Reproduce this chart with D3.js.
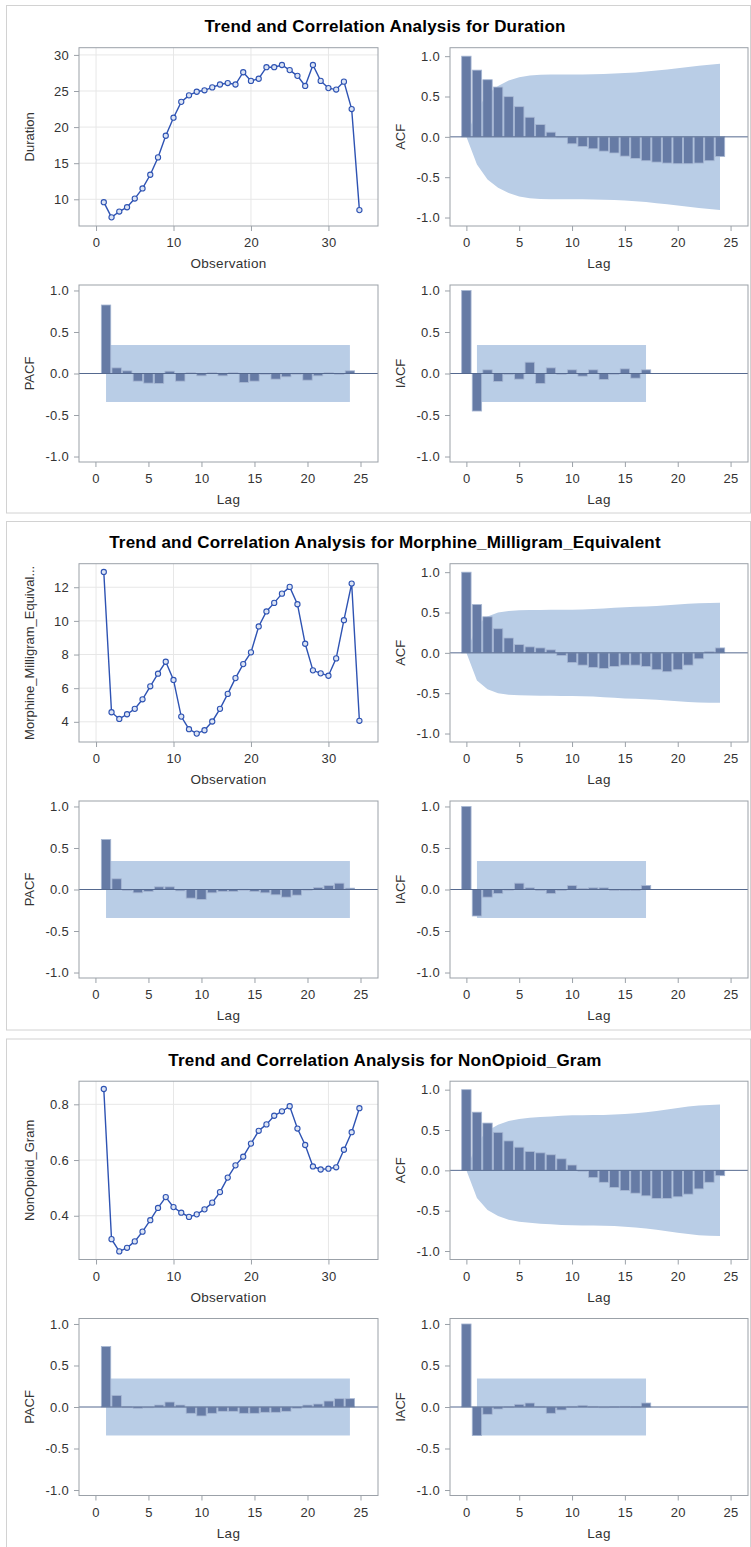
<!DOCTYPE html>
<html>
<head>
<meta charset="utf-8">
<script src="https://cdn.jsdelivr.net/npm/d3@7"></script>
<style>
body { margin: 0; background: #fff; }
svg text { font-family: "Liberation Sans", Arial, sans-serif; }
</style>
</head>
<body>
<svg id="chart" width="751" height="1547"></svg>
<script>
const trend_x_ticks = [0, 10, 20, 30];
const lag_ticks = [0, 5, 10, 15, 20, 25];
const cf_ticks = [-1.0, -0.5, 0.0, 0.5, 1.0];

// Duration
const duration_values = [9.6, 7.5, 8.3, 8.9, 10.1, 11.5, 13.4, 15.8, 18.8, 21.3, 23.5, 24.4, 24.9, 25.1, 25.5, 25.9, 26.1, 25.9, 27.6, 26.4, 26.7, 28.3, 28.3, 28.6, 27.9, 27.1, 25.7, 28.6, 26.4, 25.4, 25.2, 26.3, 22.5, 8.5];
const duration_y_ticks = [10, 15, 20, 25, 30];
const duration_acf = [1.0, 0.827, 0.708, 0.617, 0.498, 0.374, 0.243, 0.152, 0.058, -0.01, -0.086, -0.12, -0.148, -0.177, -0.2, -0.239, -0.267, -0.296, -0.313, -0.325, -0.333, -0.333, -0.325, -0.296, -0.243];
const duration_acf_band = [0, 0.343, 0.528, 0.63, 0.697, 0.738, 0.76, 0.769, 0.772, 0.773, 0.773, 0.774, 0.776, 0.78, 0.784, 0.79, 0.799, 0.809, 0.822, 0.836, 0.85, 0.866, 0.881, 0.895, 0.906];
const duration_pacf = [0.825, 0.068, 0.032, -0.092, -0.116, -0.12, 0.028, -0.092, 0.008, -0.028, 0.008, -0.028, 0.008, -0.108, -0.092, -0.005, -0.068, -0.04, 0.002, -0.08, -0.028, 0.008, -0.002, 0.032];
const duration_iacf = [1.0, -0.452, 0.044, -0.096, -0.005, -0.068, 0.136, -0.12, 0.068, -0.008, 0.044, -0.032, 0.044, -0.072, -0.008, 0.056, -0.056, 0.044];

// Morphine_Milligram_Equivalent
const morphine_values = [12.91, 4.57, 4.17, 4.45, 4.77, 5.34, 6.11, 6.86, 7.57, 6.49, 4.31, 3.56, 3.30, 3.50, 4.02, 4.77, 5.66, 6.60, 7.43, 8.13, 9.67, 10.56, 11.07, 11.62, 12.02, 10.99, 8.64, 7.06, 6.88, 6.74, 7.77, 10.04, 12.22, 4.06];
const morphine_y_ticks = [4, 6, 8, 10, 12];
const morphine_acf = [1.0, 0.598, 0.447, 0.299, 0.184, 0.102, 0.074, 0.061, 0.037, -0.033, -0.119, -0.152, -0.18, -0.193, -0.168, -0.152, -0.152, -0.168, -0.209, -0.234, -0.209, -0.152, -0.074, 0.016, 0.061];
const morphine_acf_band = [0, 0.343, 0.45, 0.5, 0.52, 0.527, 0.53, 0.532, 0.533, 0.534, 0.535, 0.537, 0.542, 0.55, 0.558, 0.565, 0.57, 0.575, 0.58, 0.59, 0.6, 0.61, 0.615, 0.618, 0.62];
const morphine_pacf = [0.602, 0.129, -0.005, -0.04, -0.024, 0.032, 0.032, -0.016, -0.104, -0.12, -0.04, -0.024, -0.024, 0.002, -0.024, -0.04, -0.064, -0.092, -0.068, 0.002, 0.024, 0.048, 0.076, 0.016];
const morphine_iacf = [1.0, -0.319, -0.092, -0.048, 0.002, 0.076, 0.02, -0.012, -0.048, -0.012, 0.048, 0.012, 0.02, 0.02, -0.012, -0.012, -0.012, 0.048];

// NonOpioid_Gram
const nonopioid_values = [0.855, 0.316, 0.272, 0.285, 0.308, 0.343, 0.384, 0.428, 0.467, 0.431, 0.411, 0.396, 0.405, 0.423, 0.447, 0.485, 0.537, 0.581, 0.612, 0.659, 0.705, 0.728, 0.759, 0.775, 0.793, 0.713, 0.654, 0.577, 0.566, 0.569, 0.574, 0.637, 0.70, 0.786];
const nonopioid_y_ticks = [0.4, 0.6, 0.8];
const nonopioid_acf = [1.0, 0.721, 0.586, 0.471, 0.365, 0.287, 0.234, 0.217, 0.193, 0.143, 0.066, -0.008, -0.09, -0.148, -0.213, -0.25, -0.283, -0.316, -0.348, -0.348, -0.328, -0.295, -0.23, -0.148, -0.066];
const nonopioid_acf_band = [0, 0.343, 0.49, 0.566, 0.611, 0.636, 0.651, 0.661, 0.669, 0.676, 0.682, 0.684, 0.685, 0.687, 0.691, 0.698, 0.707, 0.72, 0.736, 0.755, 0.774, 0.79, 0.803, 0.811, 0.815];
const nonopioid_pacf = [0.728, 0.14, 0.002, -0.016, -0.008, 0.024, 0.06, 0.024, -0.076, -0.108, -0.076, -0.052, -0.052, -0.076, -0.076, -0.064, -0.064, -0.052, -0.016, 0.024, 0.036, 0.072, 0.1, 0.1];
const nonopioid_iacf = [1.0, -0.344, -0.088, -0.024, 0.002, 0.032, 0.048, 0.008, -0.076, -0.036, 0.008, 0.02, 0.008, -0.008, 0.002, 0.008, 0.002, 0.048];

// white-noise limit used by PACF / IACF bands
const pacf_limit = 0.343;

// ---- style ----
const line_color = "#2e53b3";
const bar_fill = "#667ba5";
const bar_stroke = "#a7b7d3";
const band_fill = "#b9cde6";
const ref_color = "#55698f";
const frame_color = "#9ba1a8";
const grid_color = "#e7e7e7";
const text_color = "#333";
const tick_font = "13px";
const label_font = "13.5px";

// layout of one panel (relative to its top)
const cols = {left: [79, 378], right: [450, 748]};
const rows = {top: [47.7, 226], bottom: [285, 462]};

const fmt1 = (d) => d3.format(".1f")(d).replace("\u2212", "-");

const svg = d3.select("#chart");

function style_axis(ax){
    ax.select(".domain").remove();
    ax.selectAll(".tick line").attr("stroke", frame_color);
    ax.selectAll(".tick text")
    .attr("fill", text_color)
    .style("font-size", tick_font)
    .style("letter-spacing", "0.3px");
}

function draw_frame(g, xr, yr){
    g.append("rect")
    .attr("x", xr[0]).attr("y", yr[0])
    .attr("width", xr[1] - xr[0]).attr("height", yr[1] - yr[0])
    .attr("fill", "none")
    .attr("stroke", frame_color)
    .attr("stroke-width", 1);
}

function y_title(g, x, yr, label){
    g.append("text")
    .attr("transform", `translate(${x}, ${(yr[0] + yr[1]) / 2}) rotate(-90)`)
    .attr("text-anchor", "middle")
    .attr("dy", "0.35em")
    .attr("fill", text_color)
    .style("font-size", "13px")
    .text(label);
}

function x_title(g, xr, y, label){
    g.append("text")
    .attr("x", (xr[0] + xr[1]) / 2)
    .attr("y", y)
    .attr("text-anchor", "middle")
    .attr("fill", text_color)
    .style("font-size", label_font)
    .style("letter-spacing", "0.3px")
    .text(label);
}

// trend (series) plot
function draw_trend(g, values, y_domain, y_ticks, y_fmt, label){
    const xr = cols.left, yr = rows.top;
    const x = d3.scaleLinear().domain([-2.2, 36.4]).range(xr);
    const y = d3.scaleLinear().domain(y_domain).range([yr[1], yr[0]]);

    // grid
    g.append("g").selectAll("line.vg").data(trend_x_ticks).enter().append("line")
    .attr("x1", (d) => x(d)).attr("x2", (d) => x(d))
    .attr("y1", yr[0]).attr("y2", yr[1])
    .attr("stroke", grid_color);
    g.append("g").selectAll("line.hg").data(y_ticks).enter().append("line")
    .attr("x1", xr[0]).attr("x2", xr[1])
    .attr("y1", (d) => y(d)).attr("y2", (d) => y(d))
    .attr("stroke", grid_color);

    const pts = values.map((v, i) => [i + 1, v]);
    g.append("path")
    .datum(pts)
    .attr("fill", "none")
    .attr("stroke", line_color)
    .attr("stroke-width", 1.4)
    .attr("d", d3.line().x((d) => x(d[0])).y((d) => y(d[1])));

    g.append("g").selectAll("circle").data(pts).enter().append("circle")
    .attr("cx", (d) => x(d[0])).attr("cy", (d) => y(d[1]))
    .attr("r", 2.6)
    .attr("fill", "#dce4f4")
    .attr("stroke", line_color)
    .attr("stroke-width", 1.1);

    draw_frame(g, xr, yr);

    const xa = g.append("g").attr("transform", `translate(0, ${yr[1]})`)
    .call(d3.axisBottom(x).tickValues(trend_x_ticks).tickSize(5).tickPadding(7));
    style_axis(xa);
    const ya = g.append("g").attr("transform", `translate(${xr[0]}, 0)`)
    .call(d3.axisLeft(y).tickValues(y_ticks).tickFormat(y_fmt).tickSize(5).tickPadding(5));
    style_axis(ya);

    x_title(g, xr, 268, "Observation");
    y_title(g, 29, yr, label);
}

// correlation plot: bars, confidence band, zero reference line
function draw_cf(g, col, row, values, first_lag, band, band_range, y_domain, label){
    const xr = cols[col], yr = rows[row];
    const x = d3.scaleLinear().domain([-1.55, 26.65]).range(xr);
    const y = d3.scaleLinear().domain(y_domain).range([yr[1], yr[0]]);
    const bw = 9.4;

    if (Array.isArray(band)) {
        // lag dependent band (ACF)
        const area = d3.area()
        .x((d, i) => x(i))
        .y0((d) => y(-d))
        .y1((d) => y(d));
        g.append("path").datum(band).attr("fill", band_fill).attr("d", area);
    } else {
        g.append("rect")
        .attr("x", x(band_range[0])).attr("width", x(band_range[1]) - x(band_range[0]))
        .attr("y", y(band)).attr("height", y(-band) - y(band))
        .attr("fill", band_fill);
    }

    const data = values.map((v, i) => ({lag: i + first_lag, v: v}));
    g.append("g").selectAll("rect").data(data).enter().append("rect")
    .attr("x", (d) => x(d.lag) - bw / 2)
    .attr("width", bw)
    .attr("y", (d) => y(Math.max(d.v, 0)))
    .attr("height", (d) => Math.max(0.8, Math.abs(y(d.v) - y(0))))
    .attr("fill", bar_fill)
    .attr("stroke", bar_stroke)
    .attr("stroke-width", 0.8);

    g.append("line")
    .attr("x1", xr[0]).attr("x2", xr[1])
    .attr("y1", y(0)).attr("y2", y(0))
    .attr("stroke", ref_color)
    .attr("stroke-width", 1);

    draw_frame(g, xr, yr);

    const xa = g.append("g").attr("transform", `translate(0, ${yr[1]})`)
    .call(d3.axisBottom(x).tickValues(lag_ticks).tickSize(5).tickPadding(7));
    style_axis(xa);
    const ya = g.append("g").attr("transform", `translate(${xr[0]}, 0)`)
    .call(d3.axisLeft(y).tickValues(cf_ticks).tickFormat(fmt1).tickSize(5).tickPadding(5));
    style_axis(ya);

    x_title(g, xr, yr[1] + 42, "Lag");
    y_title(g, col == "left" ? 29 : 400, yr, label);
}

function draw_panel(top, bottom, title, y_label, values, y_domain, y_ticks, y_fmt, acf, acf_band, pacf, iacf){
    const g = svg.append("g").attr("transform", `translate(0, ${top})`);

    // panel border
    g.append("rect")
    .attr("x", 6.5).attr("y", 5.5)
    .attr("width", 744).attr("height", bottom - 5.5)
    .attr("fill", "none")
    .attr("stroke", "#d2d2d2")
    .attr("stroke-width", 1);

    g.append("text")
    .attr("x", 385).attr("y", 32)
    .attr("text-anchor", "middle")
    .attr("fill", "#000")
    .style("font-size", "17px")
    .style("font-weight", "bold")
    .style("letter-spacing", "0.2px")
    .text(title);

    draw_trend(g, values, y_domain, y_ticks, y_fmt, y_label);
    draw_cf(g, "right", "top", acf, 0, acf_band, null, [-1.105, 1.105], "ACF");
    draw_cf(g, "left", "bottom", pacf, 1, pacf_limit, [1, 24], [-1.066, 1.066], "PACF");
    draw_cf(g, "right", "bottom", iacf, 0, pacf_limit, [1, 17], [-1.066, 1.066], "IACF");
}

draw_panel(0, 513, "Trend and Correlation Analysis for Duration", "Duration",
    duration_values, [6.3, 31.0], duration_y_ticks, d3.format("d"),
    duration_acf, duration_acf_band, duration_pacf, duration_iacf);

draw_panel(516, 514, "Trend and Correlation Analysis for Morphine_Milligram_Equivalent", "Morphine_Milligram_Equival...",
    morphine_values, [2.8, 13.4], morphine_y_ticks, d3.format("d"),
    morphine_acf, morphine_acf_band, morphine_pacf, morphine_iacf);

draw_panel(1033.5, 530, "Trend and Correlation Analysis for NonOpioid_Gram", "NonOpioid_Gram",
    nonopioid_values, [0.243, 0.883], nonopioid_y_ticks, d3.format(".1f"),
    nonopioid_acf, nonopioid_acf_band, nonopioid_pacf, nonopioid_iacf);
</script>
</body>
</html>
